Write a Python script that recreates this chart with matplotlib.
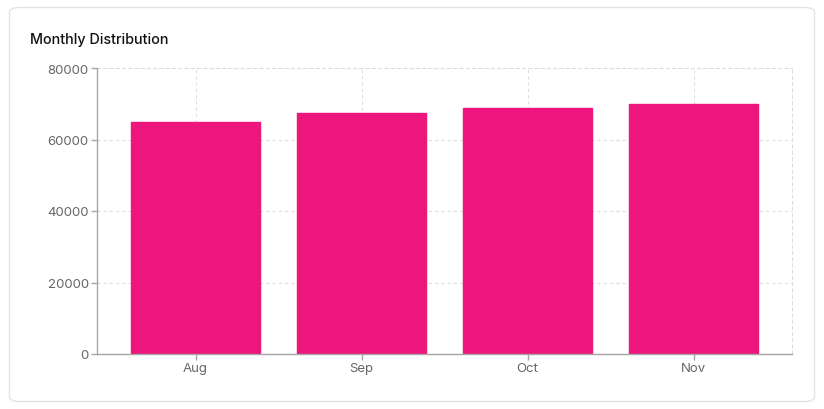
import matplotlib
matplotlib.use("Agg")
import matplotlib.pyplot as plt
from matplotlib.patches import FancyBboxPatch

months = ["Aug", "Sep", "Oct", "Nov"]
totals = [65000, 67500, 68800, 70000]
y_ticks = [0, 20000, 40000, 60000, 80000]

PINK = "#ED167D"
AXIS = "#a6a6a6"
GRID = "#dcdcdc"
TEXT = "#666666"
DASH = (0, (3, 3))

plt.rcParams["font.family"] = ["Inter", "DejaVu Sans"]

fig = plt.figure(figsize=(8.24, 4.10), dpi=100)

# card background, kept behind the axes
card = FancyBboxPatch((9.5 / 824, 7.5 / 410), 805 / 824, 394 / 410,
                      boxstyle="round,pad=0,rounding_size=0.012",
                      transform=fig.transFigure, facecolor="white",
                      edgecolor="#e3e3e3", linewidth=1.0, zorder=-10)
fig.patches.append(card)

fig.text(30 / 824, 1 - 40 / 410, "Monthly Distribution", fontsize=10.3,
         fontweight="medium", color="#111111", va="center", ha="left")

ax = fig.add_axes([97 / 824, 55 / 410, 695 / 824, 286 / 410])
ax.set_zorder(1)
ax.set_facecolor("none")

x = range(len(months))
ax.bar(x, totals, width=0.78, color=PINK, edgecolor=PINK, linewidth=1.0,
       joinstyle="round", zorder=3)

# outer padding of the category band, as in the original layout
pad = (695 / 166 - len(months)) / 2 + 0.5
ax.set_xlim(-pad, len(months) - 1 + pad)
ax.set_ylim(0, 80000)
ax.set_xticks(list(x))
ax.set_xticklabels(months)
ax.set_yticks(y_ticks)
ax.set_yticklabels([str(v) for v in y_ticks])

ax.grid(True, color=GRID, linestyle=DASH, linewidth=0.75, zorder=0)

for side in ["top", "right"]:
    ax.spines[side].set_color(GRID)
    ax.spines[side].set_linestyle(DASH)
    ax.spines[side].set_linewidth(0.75)
for side in ["left", "bottom"]:
    ax.spines[side].set_color(AXIS)
    ax.spines[side].set_linewidth(1.0)
    ax.spines[side].set_zorder(4)

ax.tick_params(axis="both", colors=AXIS, labelcolor=TEXT, labelsize=9.5,
               length=4.5, width=1.0)
ax.tick_params(axis="x", pad=1.5)
ax.tick_params(axis="y", pad=1.5)

fig.savefig("out.png", dpi=100)
